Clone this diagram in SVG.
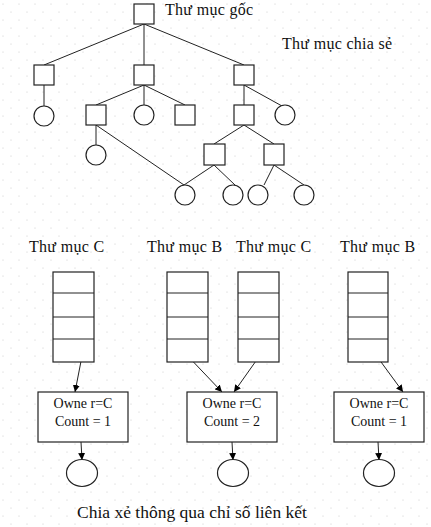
<svg xmlns="http://www.w3.org/2000/svg" width="431" height="527" viewBox="0 0 431 527">
<defs>
<pattern id="dots" width="16" height="16" patternUnits="userSpaceOnUse">
<circle cx="3" cy="4" r="0.6" fill="#c8c8c8"/>
<circle cx="11" cy="12" r="0.6" fill="#c8c8c8"/>
</pattern>
<marker id="arr" viewBox="0 0 10 10" refX="10" refY="5" markerWidth="7" markerHeight="7" orient="auto" markerUnits="userSpaceOnUse">
<path d="M0,0 L10,5 L0,10 z" fill="#000"/>
</marker>
<style>
.n{fill:#fff;stroke:#222;stroke-width:1.2}
.e{fill:none;stroke:#222;stroke-width:1}
.a{fill:none;stroke:#222;stroke-width:1;marker-end:url(#arr)}
.t{font-family:"Liberation Serif","DejaVu Serif",serif;font-size:16px;fill:#111;letter-spacing:0.3px}
.s{font-family:"Liberation Serif","DejaVu Serif",serif;font-size:14px;fill:#111}
.c{font-family:"Liberation Serif","DejaVu Serif",serif;font-size:17.5px;fill:#111}
</style>
</defs>
<rect width="431" height="527" fill="#fff"/>
<rect width="431" height="527" fill="url(#dots)"/>
<g id="connectors">
<line class="e" x1="144" y1="24" x2="44" y2="65"/>
<line class="e" x1="144" y1="24" x2="144" y2="65"/>
<line class="e" x1="144" y1="24" x2="244" y2="65"/>
<line class="e" x1="44" y1="85" x2="44" y2="106"/>
<line class="e" x1="144" y1="85" x2="96" y2="105"/>
<line class="e" x1="144" y1="85" x2="144" y2="105"/>
<line class="e" x1="144" y1="85" x2="185" y2="105"/>
<line class="e" x1="244" y1="85" x2="244" y2="105"/>
<line class="e" x1="244" y1="85" x2="282" y2="106"/>
<line class="e" x1="96" y1="125" x2="96" y2="145"/>
<line class="e" x1="96" y1="125" x2="184" y2="185"/>
<line class="e" x1="244" y1="125" x2="214" y2="144"/>
<line class="e" x1="244" y1="125" x2="274" y2="144"/>
<line class="e" x1="214" y1="165" x2="184" y2="185"/>
<line class="e" x1="214" y1="165" x2="235" y2="185"/>
<line class="e" x1="274" y1="165" x2="264" y2="185"/>
<line class="e" x1="274" y1="165" x2="304" y2="185"/>
<line class="a" x1="83" y1="351" x2="75" y2="392"/>
<line class="a" x1="183" y1="351" x2="222" y2="392"/>
<line class="a" x1="263" y1="351" x2="234" y2="392"/>
<line class="a" x1="373" y1="351" x2="403" y2="392"/>
<line class="a" x1="81" y1="442" x2="82" y2="460"/>
<line class="a" x1="232" y1="442" x2="233" y2="460"/>
<line class="a" x1="378" y1="442" x2="379" y2="460"/>
</g>
<g id="root"><rect class="n" x="134" y="4" width="20" height="20"/></g>
<g id="lbl-root"><text class="t" x="165" y="15">Thư mục gốc</text></g>
<g id="lbl-share"><text class="t" x="282" y="49">Thư mục chia sẻ</text></g>
<g id="d1"><rect class="n" x="34" y="65" width="20" height="20"/></g>
<g id="d2"><rect class="n" x="134" y="65" width="20" height="20"/></g>
<g id="d3"><rect class="n" x="234" y="65" width="20" height="20"/></g>
<g id="f1"><circle class="n" cx="44" cy="116" r="10"/></g>
<g id="d4"><rect class="n" x="86" y="105" width="20" height="20"/></g>
<g id="f2"><circle class="n" cx="144" cy="115" r="10"/></g>
<g id="d5"><rect class="n" x="175" y="105" width="20" height="20"/></g>
<g id="d6"><rect class="n" x="234" y="105" width="20" height="20"/></g>
<g id="f3"><circle class="n" cx="285" cy="115" r="10"/></g>
<g id="f4"><circle class="n" cx="96" cy="155" r="10"/></g>
<g id="d7"><rect class="n" x="204" y="144" width="21" height="21"/></g>
<g id="d8"><rect class="n" x="264" y="144" width="20" height="21"/></g>
<g id="f5"><circle class="n" cx="185" cy="195" r="10"/></g>
<g id="f6"><circle class="n" cx="233" cy="195" r="10"/></g>
<g id="f7"><circle class="n" cx="258" cy="195" r="10"/></g>
<g id="f8"><circle class="n" cx="304" cy="195" r="10"/></g>
<g id="lbl-c1"><text class="t" x="29" y="252">Thư mục C</text></g>
<g id="lbl-b1"><text class="t" x="147" y="252">Thư mục B</text></g>
<g id="lbl-c2"><text class="t" x="236" y="252">Thư mục C</text></g>
<g id="lbl-b2"><text class="t" x="340" y="252">Thư mục B</text></g>
<g id="stack1"><rect class="n" x="53" y="272" width="41" height="90"/><path class="e" d="M53,293H94M53,317H94M53,339H94"/></g>
<g id="stack2"><rect class="n" x="167" y="272" width="41" height="90"/><path class="e" d="M167,293H208M167,317H208M167,339H208"/></g>
<g id="stack3"><rect class="n" x="238" y="272" width="41" height="90"/><path class="e" d="M238,293H279M238,317H279M238,339H279"/></g>
<g id="stack4"><rect class="n" x="348" y="272" width="40" height="90"/><path class="e" d="M348,293H388M348,317H388M348,339H388"/></g>
<g id="inode1"><rect class="n" x="38" y="392" width="90" height="50"/><text class="s" x="83" y="408" text-anchor="middle">Owne r=C</text><text class="s" x="83" y="426" text-anchor="middle">Count = 1</text></g>
<g id="inode2"><rect class="n" x="187" y="392" width="90" height="50"/><text class="s" x="232" y="408" text-anchor="middle">Owne r=C</text><text class="s" x="232" y="426" text-anchor="middle">Count = 2</text></g>
<g id="inode3"><rect class="n" x="334" y="392" width="90" height="50"/><text class="s" x="379" y="408" text-anchor="middle">Owne r=C</text><text class="s" x="379" y="426" text-anchor="middle">Count = 1</text></g>
<g id="file1"><ellipse class="n" cx="82" cy="473" rx="15.5" ry="13.5"/></g>
<g id="file2"><ellipse class="n" cx="233" cy="473" rx="15.5" ry="13.5"/></g>
<g id="file3"><ellipse class="n" cx="379" cy="473" rx="15.5" ry="13.5"/></g>
<g id="caption"><text class="c" x="77" y="518">Chia xẻ thông qua chỉ số liên kết</text></g>
</svg>
